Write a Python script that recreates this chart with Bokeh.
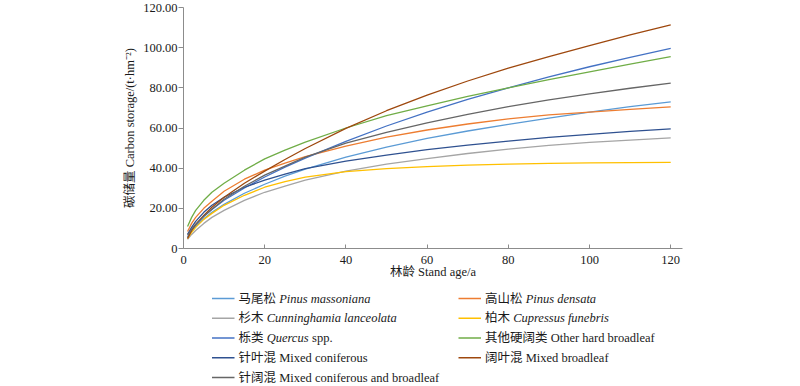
from bokeh.plotting import figure
from bokeh.models import Range1d, FixedTicker, ColumnDataSource
from bokeh.layouts import column
from bokeh.core.properties import value
from bokeh.embed import file_html
from bokeh.resources import INLINE

# ---------------- data ----------------
ages = [1, 2, 3, 5, 7, 10, 15, 20, 25, 30, 40, 50, 60, 70, 80, 90, 100, 110, 120]

pinus_massoniana = [5.5, 8.5, 11.0, 14.8, 18.0, 22.0, 27.5, 32.0, 36.0, 39.5, 45.5, 50.5, 54.8, 58.5, 61.8, 64.9, 67.9, 70.6, 73.0]
pinus_densata = [8.5, 12.5, 15.5, 20.0, 23.5, 28.5, 34.5, 39.0, 42.5, 45.8, 51.0, 55.5, 59.0, 62.0, 64.5, 66.5, 67.9, 69.3, 70.5]
cunninghamia = [4.5, 7.0, 9.0, 12.5, 15.5, 19.0, 24.0, 28.0, 31.0, 34.0, 38.5, 42.0, 44.8, 47.3, 49.5, 51.3, 52.8, 54.0, 55.1]
cupressus = [5.0, 8.0, 10.5, 14.5, 17.5, 21.5, 26.5, 30.5, 33.3, 35.5, 38.3, 39.8, 40.8, 41.5, 42.0, 42.4, 42.6, 42.8, 42.9]
quercus = [5.5, 9.2, 11.8, 16.0, 19.4, 24.0, 30.1, 35.6, 40.5, 45.0, 53.3, 61.0, 67.9, 74.2, 80.0, 85.4, 90.5, 95.2, 99.7]
other_hard = [11.0, 15.5, 19.0, 24.0, 28.0, 32.5, 39.0, 44.6, 49.0, 53.0, 60.0, 66.2, 71.0, 75.7, 80.0, 84.1, 88.0, 91.8, 95.5]
mixed_coniferous = [7.0, 10.5, 13.5, 18.0, 21.5, 25.5, 30.5, 34.0, 37.0, 39.8, 43.5, 46.5, 49.2, 51.5, 53.5, 55.3, 56.8, 58.3, 59.6]
mixed_broadleaf = [5.0, 9.0, 12.0, 16.5, 20.5, 25.5, 32.5, 38.5, 44.3, 49.8, 59.8, 68.6, 76.4, 83.4, 89.8, 95.6, 101.0, 106.4, 111.4]
mixed_con_broad = [6.5, 9.5, 12.0, 16.0, 19.5, 24.5, 31.0, 36.5, 41.0, 45.5, 52.5, 57.8, 62.6, 66.8, 70.6, 74.0, 77.0, 79.8, 82.3]

series_values = [pinus_massoniana, pinus_densata, cunninghamia, cupressus, quercus,
                 other_hard, mixed_coniferous, mixed_broadleaf, mixed_con_broad]
series_cn = ["马尾松", "高山松", "杉木", "柏木", "栎类", "其他硬阔类", "针叶混", "阔叶混", "针阔混"]
series_en = ["Pinus massoniana", "Pinus densata", "Cunninghamia lanceolata", "Cupressus funebris",
             "Quercus", "Other hard broadleaf", "Mixed coniferous", "Mixed broadleaf",
             "Mixed coniferous and broadleaf"]
series_en_italic = [True, True, True, True, True, False, False, False, False]
series_en_suffix = ["", "", "", "", "spp.", "", "", "", ""]
series_colors = ["#5B9BD5", "#ED7D31", "#A5A5A5", "#FFC000", "#4472C4",
                 "#70AD47", "#2F5190", "#9E480E", "#666666"]

x_ticks = [0, 20, 40, 60, 80, 100, 120]
y_ticks = [0, 20, 40, 60, 80, 100, 120]
y_tick_labels = ["0", "20.00", "40.00", "60.00", "80.00", "100.00", "120.00"]
x_title = "林龄 Stand age/a"
y_title = "碳储量 Carbon storage/(t·hm⁻²)"

# ---------------- style ----------------
FONT = "'Liberation Serif', 'Noto Sans CJK SC', serif"
FS = 12.5
FSS = "12.5px"
TEXT_COLOR = "#1a1a1a"
AXIS_COLOR = "#8c8c8c"
W = 800
BL, BR = 183, 118          # frame left / right borders (px)
MAIN_H = 283
LEG_H = 386 - MAIN_H

# ---------------- main chart ----------------
p = figure(width=W, height=MAIN_H, x_range=Range1d(0, 122.9), y_range=Range1d(0, 120),
           output_backend="svg", toolbar_location=None,
           min_border_left=BL, min_border_right=BR, min_border_top=7, min_border_bottom=35)
p.grid.visible = False
p.outline_line_color = None
p.background_fill_color = "white"
p.border_fill_color = "white"

for vals, col in zip(series_values, series_colors):
    p.line(ages, vals, line_color=col, line_width=1.3)

xa = p.xaxis[0]
xa.ticker = FixedTicker(ticks=x_ticks)
xa.major_tick_in = 4
xa.major_tick_out = 0
xa.minor_tick_line_color = None
xa.axis_line_color = AXIS_COLOR
xa.major_tick_line_color = AXIS_COLOR
xa.major_label_standoff = 7
xa.major_label_text_font = FONT
xa.major_label_text_font_size = FSS
xa.major_label_text_color = TEXT_COLOR
xa.axis_label = x_title
xa.axis_label_text_font = FONT
xa.axis_label_text_font_size = FSS
xa.axis_label_text_font_style = "normal"
xa.axis_label_text_color = TEXT_COLOR
xa.axis_label_standoff = -2

ya = p.yaxis[0]
ya.ticker = FixedTicker(ticks=y_ticks)
ya.major_label_overrides = {t: lab for t, lab in zip(y_ticks, y_tick_labels)}
ya.major_tick_in = 0
ya.major_tick_out = 5
ya.minor_tick_line_color = None
ya.axis_line_color = AXIS_COLOR
ya.major_tick_line_color = AXIS_COLOR
ya.major_label_standoff = 1
ya.major_label_text_font = FONT
ya.major_label_text_font_size = FSS
ya.major_label_text_color = TEXT_COLOR
ya.axis_label = y_title
ya.axis_label_text_font = FONT
ya.axis_label_text_font_size = FSS
ya.axis_label_text_font_style = "normal"
ya.axis_label_text_color = TEXT_COLOR
ya.axis_label_standoff = 3

# ---------------- legend (strip below the chart, x in page pixels) ----------------
leg = figure(width=W, height=LEG_H, x_range=Range1d(BL, W - BR), y_range=Range1d(LEG_H, 0),
             output_backend="svg", toolbar_location=None, x_axis_type=None, y_axis_type=None,
             min_border_left=BL, min_border_right=BR, min_border_top=0, min_border_bottom=0)
leg.grid.visible = False
leg.outline_line_color = None

col_line_x = [211.5, 458.0]
col_line_len = 22.5
col_text_x = [238.0, 484.5]
row_y = [15.0, 34.75, 54.5, 74.25, 94.0]

ITALIC_W = {"Q": 0.722, "u": 0.5, "e": 0.444, "r": 0.389, "c": 0.444, "s": 0.389}
SPACE_W = 0.25 * FS

seg = dict(x0=[], x1=[], y=[], c=[])
txt = dict(x=[], y=[], t=[], st=[])
for i in range(len(series_cn)):
    c, r = i % 2, i // 2
    y = row_y[r]
    seg["x0"].append(col_line_x[c]); seg["x1"].append(col_line_x[c] + col_line_len)
    seg["y"].append(y); seg["c"].append(series_colors[i])
    tx = col_text_x[c]
    if series_en_italic[i]:
        txt["x"].append(tx); txt["y"].append(y); txt["t"].append(series_cn[i]); txt["st"].append("normal")
        off = len(series_cn[i]) * FS + SPACE_W
        txt["x"].append(tx + off); txt["y"].append(y); txt["t"].append(series_en[i]); txt["st"].append("italic")
        if series_en_suffix[i]:
            w = sum(ITALIC_W.get(ch, 0.5) for ch in series_en[i]) * FS
            txt["x"].append(tx + off + w + SPACE_W); txt["y"].append(y)
            txt["t"].append(series_en_suffix[i]); txt["st"].append("normal")
    else:
        txt["x"].append(tx); txt["y"].append(y)
        txt["t"].append(series_cn[i] + " " + series_en[i]); txt["st"].append("normal")

leg.segment(x0="x0", y0="y", x1="x1", y1="y", line_color="c", line_width=1.3,
            source=ColumnDataSource(seg))
leg.text(x="x", y="y", text="t", text_font_style="st", source=ColumnDataSource(txt),
         text_font=value(FONT), text_font_size=FSS, text_color=TEXT_COLOR,
         text_baseline="middle", text_align="left")

layout = column(p, leg, spacing=0)
open("out.html", "w").write(file_html(layout, INLINE))
